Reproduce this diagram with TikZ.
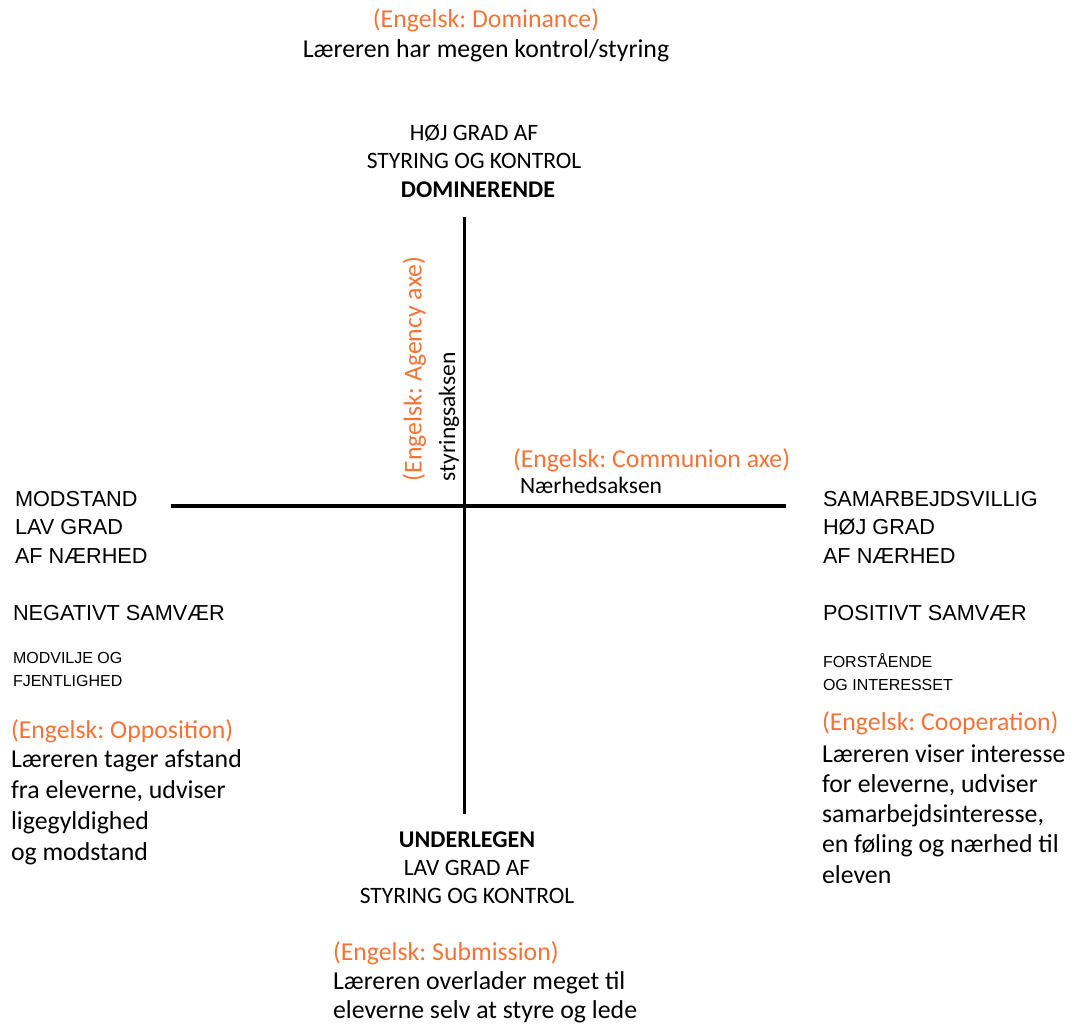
\documentclass[tikz,border=0pt]{standalone}
\usepackage{fontspec}
\setmainfont{Carlito}
\newfontfamily\arialfont{Liberation Sans}
\definecolor{engorange}{RGB}{245,115,55}
\frenchspacing

\begin{document}
\begin{tikzpicture}[x=1pt,y=-1pt,
  every node/.style={inner sep=0pt,outer sep=0pt},
  big/.style={font=\fontsize{25.8}{30.5}\selectfont,align=left},
  caps/.style={font=\fontsize{23.5}{28}\selectfont,align=center},
  capsbold/.style={font=\bfseries\fontsize{24}{28}\selectfont},
  pole/.style={font=\arialfont\fontsize{21.7}{28.5}\selectfont,align=left},
  tiny/.style={font=\arialfont\fontsize{16}{22.5}\selectfont,align=left},
  eng/.style={big,text=engorange},
  axis/.style={line width=3.5pt}]
  \useasboundingbox (0,0) rectangle (1074,1025);
  % the two axes
  \coordinate (top) at (464.5,217);
  \coordinate (bottom) at (464.5,814);
  \coordinate (left) at (171,506);
  \coordinate (right) at (786,506);
  \draw [axis] (top) -- (bottom);
  \draw [axis] (left) -- (right);
  % dominance
  \node [eng,anchor=base] (domeng) at (486,28) {(Engelsk: Dominance)};
  \node [big,anchor=base] (domtxt) at (486,58) {Læreren har megen kontrol/styring};
  \node [caps,anchor=base] (domhigh) at (474,140) {HØJ GRAD AF};
  \node [caps,anchor=base] (domctrl) at (474,168) {STYRING OG KONTROL};
  \node [capsbold,anchor=base] (dom) at (478,197) {DOMINERENDE};
  % axis names
  \node [eng,rotate=90,anchor=base west] (agency) at (421.7,481) {(Engelsk: Agency axe)};
  \node [caps,rotate=90,anchor=base west] (styring) at (455,481) {styringsaksen};
  \node [eng,anchor=base west] (communion) at (513,467) {(Engelsk: Communion axe)};
  \node [caps,anchor=base west] (naerhed) at (520,493) {Nærhedsaksen};
  % opposition (base = last line)
  \node [pole,anchor=base west] (modstand) at (15,563) {MODSTAND\\LAV GRAD\\AF NÆRHED};
  \node [pole,anchor=base west] (negativ) at (13,620) {NEGATIVT SAMVÆR};
  \node [tiny,anchor=base west] (modvilje) at (13,686) {MODVILJE OG\\FJENTLIGHED};
  \node [eng,anchor=base west] (oppeng) at (11,738) {(Engelsk: Opposition)};
  \node [big,anchor=base west,font=\fontsize{25.8}{30.7}\selectfont] (opptxt) at (11,860) {Læreren tager afstand\\fra eleverne, udviser\\ligegyldighed\\og modstand};
  % cooperation
  \node [pole,anchor=base west] (samarb) at (823,563) {SAMARBEJDSVILLIG\\HØJ GRAD\\AF NÆRHED};
  \node [pole,anchor=base west] (positiv) at (823,620) {POSITIVT SAMVÆR};
  \node [tiny,anchor=base west] (forstaa) at (823,690) {FORSTÅENDE\\OG INTERESSET};
  \node [eng,anchor=base west] (coopeng) at (822,730) {(Engelsk: Cooperation)};
  \node [big,anchor=base west,font=\fontsize{25.8}{30.25}\selectfont] (cooptxt) at (822,883) {Læreren viser interesse\\for eleverne, udviser\\samarbejdsinteresse,\\en føling og nærhed til\\eleven};
  % submission
  \node [capsbold,anchor=base] (sub) at (467,847) {UNDERLEGEN};
  \node [caps,anchor=base] (sublow) at (467,875) {LAV GRAD AF};
  \node [caps,anchor=base] (subctrl) at (467,903) {STYRING OG KONTROL};
  \node [eng,anchor=base west] (subeng) at (333,960) {(Engelsk: Submission)};
  \node [big,anchor=base west,font=\fontsize{25.8}{29}\selectfont] (subtxt) at (333,1018) {Læreren overlader meget til\\eleverne selv at styre og lede};
\end{tikzpicture}
\end{document}
